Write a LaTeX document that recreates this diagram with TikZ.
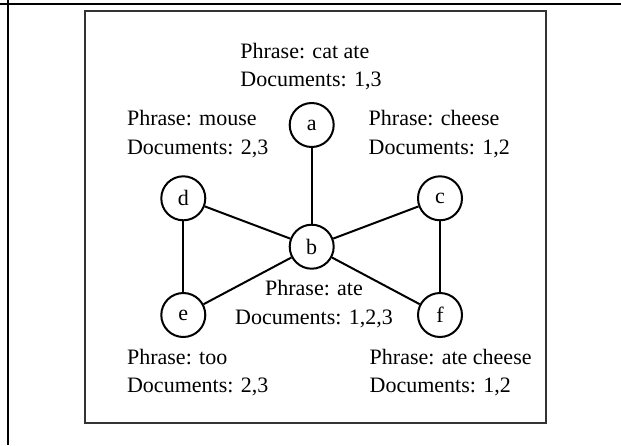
\documentclass[tikz,border=0pt]{standalone}
\usepackage{fontspec}
\setmainfont{Liberation Serif}
\usepackage{xcolor}
\usepackage{tikz}
\usetikzlibrary{positioning}

\tikzset{
  vertex/.style={circle, draw=black, line width=1pt, minimum size=22pt, inner sep=0pt,
    font=\fontsize{11}{14.2}\selectfont},
  info/.style={align=left, anchor=base west, inner sep=0pt,
    font=\fontsize{11}{14.2}\selectfont},
  link/.style={line width=1pt}
}

\begin{document}
\begin{tikzpicture}[x=0.5pt,y=-0.5pt]
  \useasboundingbox (0,0) rectangle (621,445);
  % Table rules round the figure
  \draw[line width=1.2pt] (0,4) -- (621,4);
  \draw[line width=1.2pt] (8,0) -- (8,445);
  % Figure frame
  \draw[black!80, line width=1.3pt] (85,11) rectangle (546,423);
  % Phrase nodes
  \node[vertex] (a) at (311.7,125) {a};
  \node[vertex] (b) at (311.7,246.7) {b};
  \node[vertex] (c) at (440,198.3) {c};
  \node[vertex] (d) at (183.3,198.3) {d};
  \node[vertex] (e) at (183.3,315) {e};
  \node[vertex] (f) at (440,315) {f};
  % Edges
  \draw[link] (a) -- (b);
  \draw[link] (d) -- (b);
  \draw[link] (c) -- (b);
  \draw[link] (e) -- (b);
  \draw[link] (f) -- (b);
  \draw[link] (d) -- (e);
  \draw[link] (c) -- (f);
  % Node labels (anchored on the last line)
  \node[info] (la) at (240,86.7) {Phrase: cat ate\\Documents: 1,3};
  \node[info] (ld) at (126.7,154.3) {Phrase: mouse\\Documents: 2,3};
  \node[info] (lc) at (368.3,154.3) {Phrase: cheese\\Documents: 1,2};
  \node[info, align=center, anchor=base] (lb) at (314,324) {Phrase: ate\\Documents: 1,2,3};
  \node[info] (le) at (126.7,392.7) {Phrase: too\\Documents: 2,3};
  \node[info] (lf) at (369.3,392.7) {Phrase: ate cheese\\Documents: 1,2};
\end{tikzpicture}
\end{document}
